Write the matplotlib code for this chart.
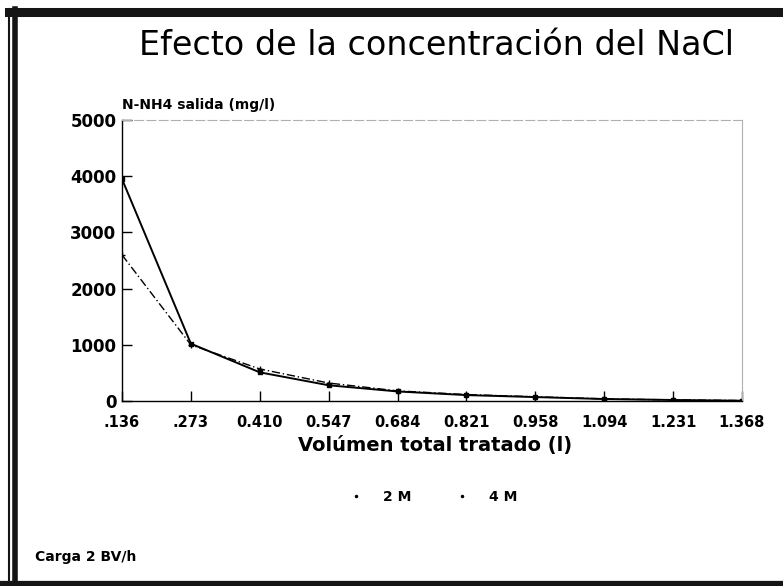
import matplotlib
matplotlib.use("Agg")
import matplotlib.pyplot as plt

# volume treated (l) and outlet N-NH4 (mg/l) for the two NaCl concentrations
volumen = [".136", ".273", "0.410", "0.547", "0.684", "0.821", "0.958", "1.094", "1.231", "1.368"]
nh4_2M = [3950, 1020, 510, 280, 170, 105, 70, 35, 18, 5]
nh4_4M = [2600, 1000, 570, 320, 180, 115, 75, 38, 20, 8]
yticks = [0, 1000, 2000, 3000, 4000, 5000]

plt.rcParams['font.family'] = 'DejaVu Sans'

fig = plt.figure(figsize=(7.83, 5.86), dpi=100)
ax = fig.add_axes([0.1558, 0.3157, 0.7918, 0.4795])

x = range(len(volumen))
ax.plot(x, nh4_2M, color='black', lw=1.4, marker='s', markersize=3, label='2 M')
ax.plot(x, nh4_4M, color='black', lw=1.0, linestyle=(0, (6, 2, 1, 2)),
        marker='+', markersize=5, label='4 M')

ax.set_xlim(0, len(volumen) - 1)
ax.set_ylim(0, 5000)
ax.set_xticks(list(x))
ax.set_xticklabels(volumen, fontsize=10.5, fontweight='bold')
ax.set_yticks(yticks)
ax.set_yticklabels([str(v) for v in yticks], fontsize=12, fontweight='bold')
ax.tick_params(axis='both', direction='in', length=7, width=1.0, pad=4)
ax.tick_params(axis='x', pad=10)

for side in ['top', 'right']:
    ax.spines[side].set_color('#b0b0b0')
    ax.spines[side].set_linewidth(0.8)
ax.spines['top'].set_linestyle((0, (8, 3)))
ax.spines['left'].set_linewidth(1.0)
ax.spines['bottom'].set_linewidth(1.0)

fig.text(0.558, 0.923, 'Efecto de la concentración del NaCl', ha='center', va='center',
         fontsize=24)
fig.text(0.156, 0.820, 'N-NH4 salida (mg/l)', ha='left', va='center',
         fontsize=10, fontweight='bold')
fig.text(0.555, 0.240, 'Volúmen total tratado (l)', ha='center', va='center',
         fontsize=14, fontweight='bold')
fig.text(0.045, 0.050, 'Carga 2 BV/h', ha='left', va='center',
         fontsize=10, fontweight='bold')

handles = [plt.Line2D([], [], color='black', marker='.', markersize=3, linestyle='none')
           for _ in range(2)]
fig.legend(handles, ['2 M', '4 M'], loc='center', bbox_to_anchor=(0.551, 0.152),
           ncol=2, frameon=False, prop={'size': 10, 'weight': 'bold'},
           handlelength=1.5, columnspacing=2.85, handletextpad=1.2)

# heavy frame round the whole sheet
fig.add_artist(plt.Line2D([0.012, 1.0], [0.980, 0.980], transform=fig.transFigure,
                          color='#151515', lw=6.5))
fig.add_artist(plt.Line2D([0.019, 0.019], [0.0, 0.985], transform=fig.transFigure,
                          color='#151515', lw=4.0))
fig.add_artist(plt.Line2D([0.012, 0.012], [0.0, 0.985], transform=fig.transFigure,
                          color='#151515', lw=1.5))
fig.add_artist(plt.Line2D([0.0, 1.0], [0.004, 0.004], transform=fig.transFigure,
                          color='#151515', lw=4.5))

fig.savefig('out.png', dpi=100)
